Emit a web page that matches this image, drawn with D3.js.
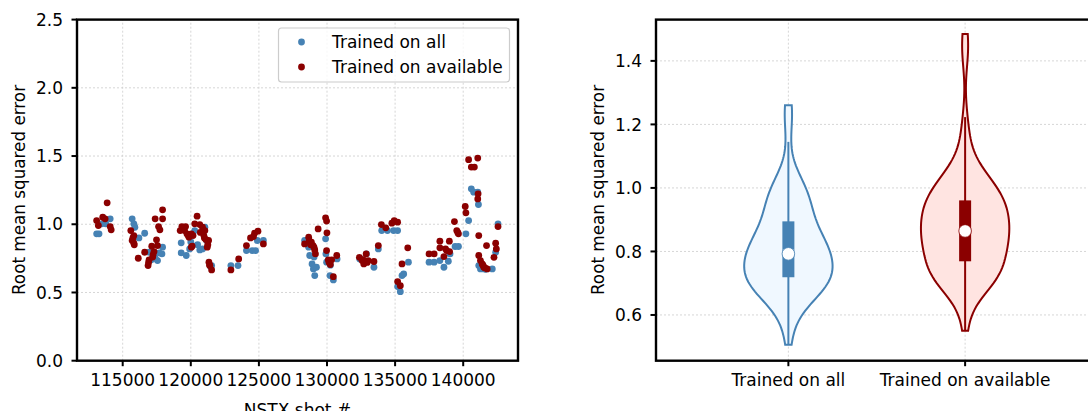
<!DOCTYPE html>
<html>
<head>
<meta charset="utf-8">
<script src="https://cdn.jsdelivr.net/npm/d3@7"></script>
<style>
  body { margin: 0; background: #fff; }
  text { font-family: "DejaVu Sans", sans-serif; fill: #000; }
</style>
</head>
<body>
<div id="chart"></div>
<script>
// values (overlapping clusters estimated)
const seriesNames = ["Trained on all", "Trained on available"];
const seriesColors = ["#4682b4", "#8b0000"];
const violinFills = ["#f0f8ff", "#ffe4e1"];

const shotAll = [113088, 113262, 113461, 113759, 114081, 115695, 115819, 115894, 116192, 116614,
  116936, 117309, 117557, 117681, 117929, 117880, 119295, 119295, 119667, 119916,
  120114, 120288, 120660, 120859, 121033, 121157, 121529, 122944, 123466, 124086,
  124508, 124757, 124881, 125328, 128356, 128654, 128729, 128902, 129002, 129101,
  129225, 129896, 129920, 129970, 130218, 130466, 130740, 132403, 132900, 133446,
  133769, 134017, 134439, 134886, 135184, 135184, 135383, 135507, 135631, 135978,
  137493, 137865, 138287, 138585, 138908, 139032, 139404, 139652, 140198, 140397,
  140596, 140770, 141068, 141117, 141142, 141266, 141514, 142135, 142383, 142557,
  141400, 141650, 121450, 130250, 132600, 132800, 117100, 117400, 129050, 120500,
  128800, 120000];
const rmseAll = [0.930, 0.930, 1.003, 1.003, 1.040, 1.040, 1.003, 0.978, 0.900, 0.934,
  0.795, 0.758, 0.734, 0.790, 0.832, 0.783, 0.864, 0.790, 0.771, 0.819,
  0.844, 0.954, 0.812, 0.819, 0.978, 0.881, 0.697, 0.697, 0.697, 0.807,
  0.807, 0.807, 0.881, 0.881, 0.881, 0.832, 0.771, 0.709, 0.673, 0.624,
  0.685, 0.893, 0.783, 0.722, 0.624, 0.592, 0.746, 0.746, 0.783, 0.685,
  0.819, 0.954, 0.954, 0.954, 0.954, 0.543, 0.506, 0.624, 0.636, 0.722,
  0.722, 0.722, 0.734, 0.685, 0.729, 0.783, 0.837, 0.837, 0.930, 1.027,
  1.260, 1.235, 1.235, 1.145, 0.697, 0.673, 0.673, 0.673, 0.795, 1.003,
  0.680, 0.670, 0.690, 0.700, 0.740, 0.725, 0.740, 0.750, 0.760, 0.850,
  0.840, 0.870];

const shotAvail = [113088, 113213, 113535, 113858, 113709, 114081, 114156, 115596, 115695, 115819,
  115819, 116142, 116614, 116862, 116936, 117135, 117234, 117383, 117483, 117557,
  117632, 117731, 117929, 117929, 119220, 119345, 119543, 119618, 119717, 119866,
  120040, 120040, 120164, 120288, 120462, 120660, 120859, 120958, 121033, 121107,
  121207, 121306, 121331, 121405, 121529, 122944, 123515, 124086, 124384, 124682,
  124930, 125328, 128356, 128654, 128853, 128977, 129101, 129151, 129349, 129896,
  129970, 129995, 129970, 130094, 130243, 130342, 130466, 130715, 132378, 132577,
  132701, 132875, 133024, 133446, 133769, 133992, 134315, 134762, 134935, 135184,
  135184, 135383, 135507, 135929, 137493, 137865, 138287, 138287, 138585, 138784,
  138983, 139355, 139528, 139652, 140148, 140198, 140397, 140596, 140819, 141068,
  141092, 141068, 141142, 141142, 141266, 141390, 141514, 141713, 141762, 142259,
  142383, 142433, 142557,
  116900, 117200, 121380, 130150, 132650, 132950, 141450, 141600,
  115850, 117300, 120100, 121250, 129050, 128800, 138700, 139000,
  119800, 120700, 121000, 128700, 115750, 124600, 139600];
const rmseAvail = [1.027, 0.991, 1.052, 1.157, 1.040, 0.983, 0.959, 0.954, 0.881, 0.917,
  0.861, 0.751, 0.795, 0.697, 0.739, 0.839, 0.778, 1.040, 0.886, 0.844,
  0.983, 0.959, 1.106, 1.040, 0.954, 0.983, 0.954, 0.983, 0.930, 0.905,
  0.832, 0.930, 0.917, 1.003, 1.059, 0.998, 0.978, 0.917, 0.954, 0.888,
  0.832, 0.881, 0.722, 0.697, 0.665, 0.665, 0.746, 0.844, 0.900, 0.934,
  0.949, 0.856, 0.856, 0.905, 0.868, 0.844, 0.812, 0.783, 0.966, 1.047,
  1.023, 0.937, 0.807, 0.739, 0.705, 0.739, 0.616, 0.771, 0.758, 0.734,
  0.709, 0.783, 0.734, 0.727, 0.844, 0.998, 0.974, 1.008, 1.027, 1.015,
  0.580, 0.550, 0.709, 0.827, 0.783, 0.783, 0.876, 0.827, 0.763, 0.807,
  0.876, 1.020, 0.954, 0.930, 1.130, 1.084, 1.473, 1.419, 1.419, 1.485,
  1.223, 1.186, 0.917, 0.771, 0.734, 0.709, 0.685, 0.844, 0.673, 0.758,
  0.861, 0.819, 0.983,
  0.720, 0.760, 0.700, 0.720, 0.740, 0.720, 0.700, 0.680,
  0.850, 0.800, 0.840, 0.850, 0.830, 0.850, 0.820, 0.800,
  0.920, 0.940, 0.900, 0.880, 0.900, 0.910, 0.940];

const shotTicks = [115000, 120000, 125000, 130000, 135000, 140000];
const rmseTicksLeft = [0.0, 0.5, 1.0, 1.5, 2.0, 2.5];
const rmseTicksRight = [0.6, 0.8, 1.0, 1.2, 1.4];
const violinPositions = [1, 2];

const width = 1088, height = 411;
const plotTop = 19.6, plotBottom = 360.7;
const fontSize = 17;

const svg = d3.select("#chart").append("svg")
    .attr("width", width)
    .attr("height", height)
    .attr("viewBox", `0 0 ${width} ${height}`);

svg.append("rect").attr("width", width).attr("height", height).attr("fill", "#fff");

function drawGrid(g, x, y, xt, yt) {
    const grid = g.append("g")
        .attr("stroke", "#cccccc")
        .attr("stroke-width", 0.8)
        .attr("stroke-dasharray", "2,2");
    xt.forEach(t => grid.append("line")
        .attr("x1", x(t)).attr("x2", x(t))
        .attr("y1", y.range()[0]).attr("y2", y.range()[1]));
    yt.forEach(t => grid.append("line")
        .attr("x1", x.range()[0]).attr("x2", x.range()[1])
        .attr("y1", y(t)).attr("y2", y(t)));
}

function drawFrame(g, x, y, xt, yt, xFmt, yFmt) {
    const [x0, x1] = x.range();
    const [y0, y1] = y.range();
    g.append("rect")
        .attr("x", x0).attr("y", y1)
        .attr("width", x1 - x0).attr("height", y0 - y1)
        .attr("fill", "none")
        .attr("stroke", "#000")
        .attr("stroke-width", 2.4);

    const ticks = g.append("g").attr("stroke", "#000").attr("stroke-width", 2);
    xt.forEach(t => ticks.append("line")
        .attr("x1", x(t)).attr("x2", x(t)).attr("y1", y0).attr("y2", y0 + 5.5));
    yt.forEach(t => ticks.append("line")
        .attr("x1", x0).attr("x2", x0 - 5.5).attr("y1", y(t)).attr("y2", y(t)));

    xt.forEach(t => g.append("text")
        .attr("x", x(t)).attr("y", 386)
        .attr("text-anchor", "middle")
        .attr("font-size", fontSize)
        .text(xFmt(t)));
    yt.forEach(t => g.append("text")
        .attr("x", x0 - 14).attr("y", y(t))
        .attr("dy", "0.36em")
        .attr("text-anchor", "end")
        .attr("font-size", fontSize)
        .text(yFmt(t)));
}

function yLabel(g, xPos, yPos, label) {
    g.append("text")
        .attr("transform", `translate(${xPos},${yPos}) rotate(-90)`)
        .attr("text-anchor", "middle")
        .attr("font-size", 16.8)
        .text(label);
}

// ---------- left panel: scatter ----------
const left = svg.append("g");
const xShot = d3.scaleLinear().domain([111645, 144023]).range([77, 518]);
const yLeft = d3.scaleLinear().domain([0, 2.5]).range([plotBottom, plotTop]);

drawGrid(left, xShot, yLeft, shotTicks, rmseTicksLeft);

[[shotAll, rmseAll], [shotAvail, rmseAvail]].forEach(([xs, ys], i) => {
    left.append("g")
        .attr("fill", seriesColors[i])
        .selectAll("circle")
        .data(d3.range(xs.length))
        .join("circle")
        .attr("cx", k => xShot(xs[k]))
        .attr("cy", k => yLeft(ys[k]))
        .attr("r", 3.4);
});

drawFrame(left, xShot, yLeft, shotTicks, rmseTicksLeft, d3.format("d"), d3.format(".1f"));
yLabel(left, 24.5, 190, "Root mean squared error");
left.append("text")
    .attr("x", 297.5).attr("y", 416)
    .attr("text-anchor", "middle")
    .attr("font-size", fontSize)
    .text("NSTX shot #");

// legend
const legend = left.append("g");
legend.append("rect")
    .attr("x", 278.5).attr("y", 28)
    .attr("width", 231).attr("height", 54)
    .attr("rx", 3)
    .attr("fill", "#fff").attr("fill-opacity", 0.8)
    .attr("stroke", "#cccccc").attr("stroke-width", 1.2);
seriesNames.forEach((name, i) => {
    legend.append("circle")
        .attr("cx", 301.5).attr("cy", 42 + i * 25)
        .attr("r", 3.4)
        .attr("fill", seriesColors[i]);
    legend.append("text")
        .attr("x", 332).attr("y", 42 + i * 25)
        .attr("dy", "0.36em")
        .attr("font-size", fontSize)
        .text(name);
});

// ---------- right panel: violins ----------
const right = svg.append("g");
const xCat = d3.scaleLinear().domain([0.251, 2.749]).range([656, 1097.5]);
const yRight = d3.scaleLinear().domain([0.456, 1.530]).range([plotBottom, plotTop]);

drawGrid(right, xCat, yRight, violinPositions, rmseTicksRight);

function gaussianKde(values, points) {
    const n = values.length;
    const bw = d3.deviation(values) * Math.pow(n, -0.2); // Scott's rule
    const norm = 1 / (n * bw * Math.sqrt(2 * Math.PI));
    return points.map(p => norm * d3.sum(values, v => Math.exp(-0.5 * ((p - v) / bw) ** 2)));
}

[rmseAll, rmseAvail].forEach((vals, i) => {
    const pos = violinPositions[i];
    const sorted = vals.slice().sort(d3.ascending);
    const lo = sorted[0], hi = sorted[sorted.length - 1];
    const pts = d3.range(100).map(k => lo + (hi - lo) * k / 99);
    const dens = gaussianKde(sorted, pts);
    const dMax = d3.max(dens);
    const half = 0.25;

    const area = d3.area()
        .y((d, k) => yRight(pts[k]))
        .x0((d, k) => xCat(pos - half * dens[k] / dMax))
        .x1((d, k) => xCat(pos + half * dens[k] / dMax));

    right.append("path")
        .attr("d", area(dens) + "Z")
        .attr("fill", violinFills[i])
        .attr("stroke", seriesColors[i])
        .attr("stroke-width", 2);

    const q1 = d3.quantileSorted(sorted, 0.25);
    const med = d3.quantileSorted(sorted, 0.5);
    const q3 = d3.quantileSorted(sorted, 0.75);
    const iqr = q3 - q1;
    const whiskHi = d3.max(sorted.filter(v => v <= q3 + 1.5 * iqr));
    const whiskLo = d3.min(sorted.filter(v => v >= q1 - 1.5 * iqr));

    right.append("line")
        .attr("x1", xCat(pos)).attr("x2", xCat(pos))
        .attr("y1", yRight(whiskLo)).attr("y2", yRight(whiskHi))
        .attr("stroke", seriesColors[i])
        .attr("stroke-width", 2);
    right.append("rect")
        .attr("x", xCat(pos) - 6).attr("width", 12)
        .attr("y", yRight(q3)).attr("height", yRight(q1) - yRight(q3))
        .attr("fill", seriesColors[i]);
    right.append("circle")
        .attr("cx", xCat(pos)).attr("cy", yRight(med))
        .attr("r", 6.3)
        .attr("fill", "#fff")
        .attr("stroke", seriesColors[i])
        .attr("stroke-width", 0.8);
});

drawFrame(right, xCat, yRight, violinPositions, rmseTicksRight,
    d => seriesNames[d - 1], d3.format(".1f"));
yLabel(right, 604, 190, "Root mean squared error");
</script>
</body>
</html>
